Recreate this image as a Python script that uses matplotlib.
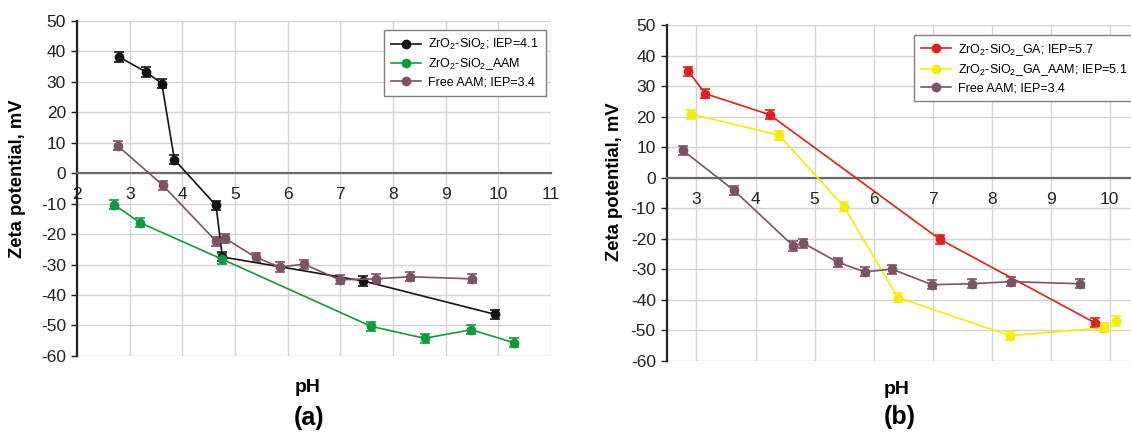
import matplotlib
matplotlib.use("Agg")
import matplotlib.pyplot as plt

plt.rcParams['font.family'] = ['Liberation Sans', 'DejaVu Sans']
plt.rcParams['mathtext.fontset'] = 'custom'
plt.rcParams['mathtext.rm'] = 'Liberation Sans'
plt.rcParams['mathtext.it'] = 'Liberation Sans:italic'
plt.rcParams['axes.unicode_minus'] = False

# --- data ---
zs_ph = [2.80, 3.31, 3.61, 3.85, 4.64, 4.76, 7.44, 9.93]
zs_zeta = [38.1, 33.2, 29.4, 4.4, -10.6, -27.5, -35.4, -46.3]

zs_aam_ph = [2.70, 3.20, 4.75, 7.59, 8.60, 9.49, 10.29]
zs_aam_zeta = [-10.3, -16.3, -28.2, -50.3, -54.2, -51.4, -55.6]

free_ph = [2.77, 3.63, 4.64, 4.81, 5.39, 5.85, 6.31, 6.99, 7.67, 8.32, 9.50]
free_zeta = [9.0, -4.0, -22.3, -21.4, -27.6, -30.8, -29.9, -35.0, -34.7, -34.0, -34.7]

ga_ph = [2.86, 3.15, 4.24, 7.12, 9.75]
ga_zeta = [35.0, 27.6, 20.7, -20.1, -47.5]

ga_aam_ph = [2.91, 4.40, 5.50, 6.41, 8.31, 9.90, 10.10]
ga_aam_zeta = [20.9, 14.0, -9.5, -39.2, -51.7, -49.1, -46.9]

err = 1.5

labels_a = [r'ZrO$_2$-SiO$_2$; IEP=4.1', r'ZrO$_2$-SiO$_2$_AAM', 'Free AAM; IEP=3.4']
labels_b = [r'ZrO$_2$-SiO$_2$_GA; IEP=5.7', r'ZrO$_2$-SiO$_2$_GA_AAM; IEP=5.1', 'Free AAM; IEP=3.4']

c_black = '#151515'
c_green = '#109a3c'
c_purple = '#7d5266'
c_red = '#e0201c'
c_yellow = '#f5ee00'

fig = plt.figure(figsize=(11.31, 4.32), dpi=100)
ax1 = fig.add_axes([0.0681, 0.176, 0.419, 0.776])
ax2 = fig.add_axes([0.5897, 0.1644, 0.4103, 0.777])


def series(ax, x, y, color, label):
    ax.errorbar(x, y, yerr=err, fmt='none', ecolor=color, elinewidth=1.2,
                capsize=3.5, capthick=1.2, zorder=3)
    ax.plot(x, y, color=color, marker='o', markersize=6, linewidth=1.2,
            label=label, zorder=4)


series(ax1, zs_ph, zs_zeta, c_black, labels_a[0])
series(ax1, zs_aam_ph, zs_aam_zeta, c_green, labels_a[1])
series(ax1, free_ph, free_zeta, c_purple, labels_a[2])

series(ax2, ga_ph, ga_zeta, c_red, labels_b[0])
series(ax2, ga_aam_ph, ga_aam_zeta, c_yellow, labels_b[1])
series(ax2, free_ph, free_zeta, c_purple, labels_b[2])

ax1.set_xlim(2, 11)
ax1.set_xticks(range(2, 12))
ax2.set_xlim(2.5, 10.36)
ax2.set_xticks(range(3, 11))

for ax in (ax1, ax2):
    ax.set_ylim(-60, 50)
    ax.set_yticks(range(-60, 51, 10))
    ax.grid(True, color='#d4d4d4', linewidth=1.0, zorder=0)
    ax.set_axisbelow(True)
    ax.spines['top'].set_visible(False)
    ax.spines['right'].set_visible(False)
    ax.spines['left'].set_linewidth(1.6)
    ax.spines['left'].set_color('#222222')
    ax.spines['bottom'].set_position(('data', 0))
    ax.spines['bottom'].set_color('#6a6a6a')
    ax.spines['bottom'].set_linewidth(1.6)
    ax.tick_params(axis='x', length=0, pad=10, labelsize=12.5, colors='#222222')
    ax.tick_params(axis='y', length=4, width=1, pad=4, labelsize=12.5,
                   colors='#222222', direction='out')
    ax.set_ylabel('Zeta potential, mV', fontsize=13.3, fontweight='bold')

ax1.yaxis.set_label_coords(-0.108, 0.53)
ax2.yaxis.set_label_coords(-0.095, 0.535)

leg_kw = dict(fontsize=9, fancybox=False, framealpha=1, edgecolor='#808080',
              handlelength=2.4, handletextpad=0.6, borderpad=0.55,
              labelspacing=0.35, borderaxespad=0)
leg1 = ax1.legend(loc='upper right', bbox_to_anchor=(0.989, 0.972), **leg_kw)
leg2 = ax2.legend(loc='upper left', bbox_to_anchor=(0.532, 0.971), **leg_kw)
for leg in (leg1, leg2):
    leg.get_frame().set_linewidth(1.0)

fig.text(308 / 1131, 1 - 388 / 432, 'pH', ha='center', va='center',
         fontsize=14, fontweight='bold')
fig.text(897 / 1131, 1 - 390 / 432, 'pH', ha='center', va='center',
         fontsize=14, fontweight='bold')
fig.text(309 / 1131, 1 - 418 / 432, '(a)', ha='center', va='center',
         fontsize=18, fontweight='bold')
fig.text(900 / 1131, 1 - 417 / 432, '(b)', ha='center', va='center',
         fontsize=18, fontweight='bold')

fig.savefig('out.png', dpi=100)
